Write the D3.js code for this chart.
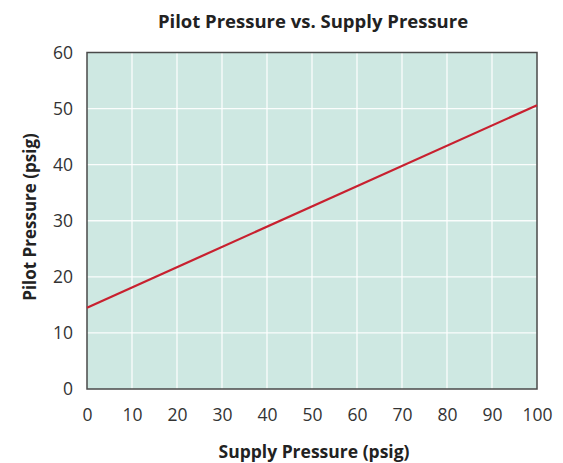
<!DOCTYPE html>
<html><head><meta charset="utf-8">
<script src="https://cdn.jsdelivr.net/npm/d3@7"></script>
<style>body{margin:0;background:#fff;} svg{display:block;}</style>
</head><body>
<svg id="c" width="563" height="463"></svg>
<script>
const supply = [0, 100];
const pilot = [14.5, 50.6];
const xTicks = [0,10,20,30,40,50,60,70,80,90,100];
const yTicks = [0,10,20,30,40,50,60];
const title = "Pilot Pressure vs. Supply Pressure";
const xLabel = "Supply Pressure (psig)";
const yLabel = "Pilot Pressure (psig)";

const svg = d3.select("#c");
const m = {l:87, r:537, t:52.5, b:389};
const x = d3.scaleLinear().domain([0,100]).range([m.l, m.r]);
const y = d3.scaleLinear().domain([0,60]).range([m.b, m.t]);
const font = "'Open Sans', Lato, sans-serif";

svg.append("rect").attr("x", m.l).attr("y", m.t).attr("width", m.r-m.l).attr("height", m.b-m.t).attr("fill", "#cee8e2");

const g = svg.append("g");
g.selectAll("line.v").data(xTicks.slice(1,-1)).enter().append("line")
  .attr("x1", d=>x(d)).attr("x2", d=>x(d)).attr("y1", m.t).attr("y2", m.b)
  .attr("stroke", "#fff").attr("stroke-width", 1.3).attr("stroke-opacity", 0.9);
g.selectAll("line.h").data(yTicks.slice(1,-1)).enter().append("line")
  .attr("y1", d=>y(d)).attr("y2", d=>y(d)).attr("x1", m.l).attr("x2", m.r)
  .attr("stroke", "#fff").attr("stroke-width", 1.3).attr("stroke-opacity", 0.9);

svg.append("rect").attr("x", m.l).attr("y", m.t).attr("width", m.r-m.l).attr("height", m.b-m.t)
  .attr("fill", "none").attr("stroke", "#4a4a4a").attr("stroke-width", 1.5);

const line = d3.line().x(d=>x(d[0])).y(d=>y(d[1]));
svg.append("path").datum(supply.map((s,i)=>[s,pilot[i]]))
  .attr("d", line).attr("fill","none").attr("stroke","#c8202f").attr("stroke-width",2.2);

const xAxis = svg.append("g").attr("transform", `translate(0,${m.b})`)
  .call(d3.axisBottom(x).tickValues(xTicks).tickSize(0).tickPadding(20).tickFormat(d3.format("d")));
const yAxis = svg.append("g").attr("transform", `translate(${m.l},0)`)
  .call(d3.axisLeft(y).tickValues(yTicks).tickSize(0).tickPadding(14).tickFormat(d3.format("d")));
[xAxis, yAxis].forEach(a => {
  a.select(".domain").remove();
  a.selectAll("text").attr("font-family", font).attr("font-size", 17.5).attr("fill", "#333");
});

svg.append("text").attr("x", 313).attr("y", 28).attr("text-anchor","middle")
  .attr("font-family", font).attr("font-weight","bold").attr("font-size", 18.5).attr("fill","#222").text(title);
svg.append("text").attr("x", 314).attr("y", 458).attr("text-anchor","middle")
  .attr("font-family", font).attr("font-weight","bold").attr("font-size", 17.5).attr("fill","#222").text(xLabel);
svg.append("text").attr("transform", "translate(36,217) rotate(-90)").attr("text-anchor","middle")
  .attr("font-family", font).attr("font-weight","bold").attr("font-size", 17).attr("fill","#222").text(yLabel);
</script>
</body></html>
